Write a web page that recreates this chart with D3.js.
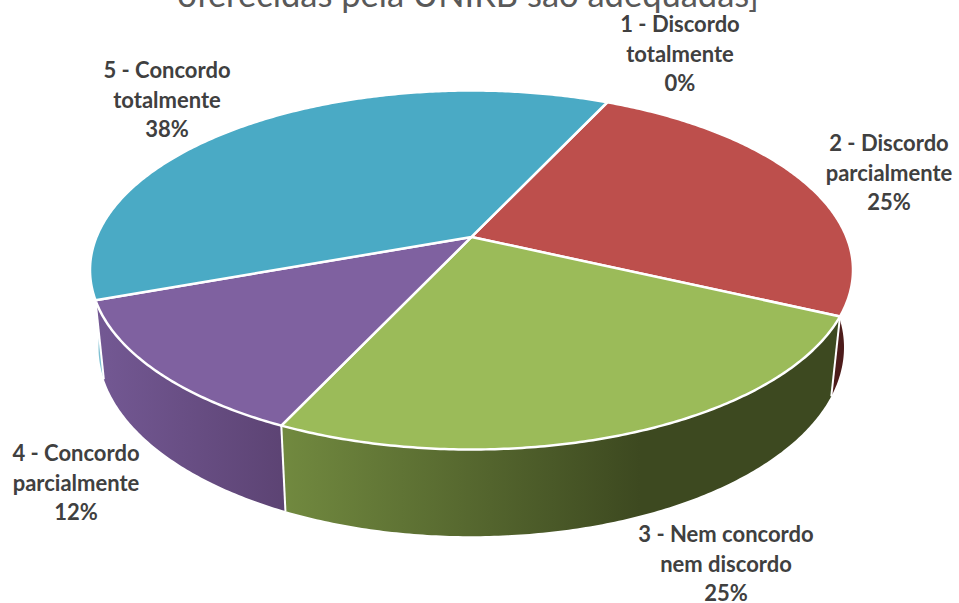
<!DOCTYPE html>
<html>
  <head>
    <meta charset="utf-8">
    <title>Pie Chart</title>
    <script src="https://d3js.org/d3.v7.min.js"></script>
    <style>
      html, body { margin: 0; padding: 0; background: #fff; }
      svg { display: block; }
    </style>
  </head>
  <body>
    <div id="chart"></div>
    <script>
      // Data
      const categories = [
        ['1 - Discordo', 'totalmente'],
        ['2 - Discordo', 'parcialmente'],
        ['3 - Nem concordo', 'nem discordo'],
        ['4 - Concordo', 'parcialmente'],
        ['5 - Concordo', 'totalmente']
      ];
      const values = [0, 25, 25, 12.5, 37.5];
      const percentLabels = ['0%', '25%', '25%', '12%', '38%'];
      const titleText = 'oferecidas pela UNIRB são adequadas]';

      // Styles, one per slice
      const faceColors = ['#c0504d', '#bd4f4c', '#9bbb59', '#7f61a0', '#4aaac5'];
      const wallColors = ['#4d1c1b', '#4d1c1b', 'url(#wallGreen)', 'url(#wallPurple)', '#7fc0d2'];

      // Label centres, one per slice
      const labelX = [680, 889, 726, 76, 167];
      const labelY = [25, 144, 535, 454, 71];
      const lineGap = 29.5;

      const width = 959;
      const height = 603;

      const svg = d3.select('#chart')
        .append('svg')
        .attr('width', width)
        .attr('height', height);

      // Top face ellipse and the lower rim ellipse
      const xTop = d3.scaleLinear().domain([-1, 1]).range([90, 853]);
      const yTop = d3.scaleLinear().domain([-1, 1]).range([90.5, 449.5]);
      const xBottom = d3.scaleLinear().domain([-1, 1]).range([98.5, 844]);
      const yBottom = d3.scaleLinear().domain([-1, 1]).range([158.6, 536.2]);

      // Perspective: the pie centre sits above the ellipse centre
      const centerShift = -0.184;
      function project(angle) {
        const u = Math.sin(angle);
        const v = -Math.cos(angle);
        const d = 1 + centerShift * v;
        return [u * Math.sqrt(1 - centerShift * centerShift) / d, (v + centerShift) / d];
      }

      const rotation = 25 * Math.PI / 180;
      const arcs = d3.pie()
        .sort(null)
        .startAngle(rotation)
        .endAngle(rotation + 2 * Math.PI)(values);

      function sampleAngles(a0, a1) {
        const n = Math.max(2, Math.ceil((a1 - a0) / 0.01));
        return d3.range(n + 1).map(i => a0 + (a1 - a0) * i / n);
      }

      const line = d3.line();
      const topPoint = a => { const p = project(a); return [xTop(p[0]), yTop(p[1])]; };
      const bottomPoint = a => { const p = project(a); return [xBottom(p[0]), yBottom(p[1])]; };

      // Wall gradients
      const defs = svg.append('defs');
      function addGradient(id, x1, x2, c1, c2) {
        const g = defs.append('linearGradient')
          .attr('id', id)
          .attr('gradientUnits', 'userSpaceOnUse')
          .attr('x1', x1).attr('x2', x2)
          .attr('y1', 0).attr('y2', 0);
        g.append('stop').attr('offset', 0).attr('stop-color', c1);
        g.append('stop').attr('offset', 1).attr('stop-color', c2);
      }
      addGradient('wallGreen', 285, 640, '#71893f', '#3d4920');
      addGradient('wallPurple', 100, 287, '#735893', '#5c4373');

      // Walls first, far ones before near ones
      const wallOrder = [4, 1, 3, 2];
      svg.append('g').selectAll('path')
        .data(wallOrder)
        .enter()
        .append('path')
        .attr('fill', i => wallColors[i])
        .attr('d', i => {
          const angles = sampleAngles(arcs[i].startAngle, arcs[i].endAngle);
          const pts = angles.map(topPoint).concat(angles.slice().reverse().map(bottomPoint));
          return line(pts) + 'Z';
        });

      // White seams where slices meet on the front of the wall
      const seams = arcs.map(d => d.startAngle).filter(a => project(a)[1] > 0);
      svg.append('g').selectAll('line')
        .data(seams)
        .enter()
        .append('line')
        .attr('x1', a => topPoint(a)[0])
        .attr('y1', a => topPoint(a)[1])
        .attr('x2', a => bottomPoint(a)[0])
        .attr('y2', a => bottomPoint(a)[1])
        .attr('stroke', '#fff')
        .attr('stroke-width', 2);

      // Top faces
      const apex = [xTop(0), yTop(centerShift)];
      svg.append('g').selectAll('path')
        .data(arcs)
        .enter()
        .append('path')
        .attr('fill', (d, i) => faceColors[i])
        .attr('stroke', '#fff')
        .attr('stroke-width', 2.5)
        .attr('stroke-linejoin', 'round')
        .attr('d', d => {
          const pts = sampleAngles(d.startAngle, d.endAngle).map(topPoint);
          return line([apex].concat(pts)) + 'Z';
        });

      // Title, cut by the top of the picture
      svg.append('text')
        .attr('x', 468)
        .attr('y', 7)
        .attr('text-anchor', 'middle')
        .attr('font-family', 'Lato, sans-serif')
        .attr('font-size', 34.5)
        .attr('fill', '#595959')
        .text(titleText);

      // Data labels
      const labels = svg.append('g').selectAll('text')
        .data(categories)
        .enter()
        .append('text')
        .attr('text-anchor', 'middle')
        .attr('font-family', 'Lato, sans-serif')
        .attr('font-size', 22)
        .attr('font-weight', 700)
        .attr('fill', '#404040');

      labels.each(function (d, i) {
        const rows = d.concat(percentLabels[i]);
        d3.select(this).selectAll('tspan')
          .data(rows)
          .enter()
          .append('tspan')
          .attr('x', labelX[i])
          .attr('y', (r, j) => labelY[i] + j * lineGap + 7)
          .text(r => r);
      });
    </script>
  </body>
</html>
